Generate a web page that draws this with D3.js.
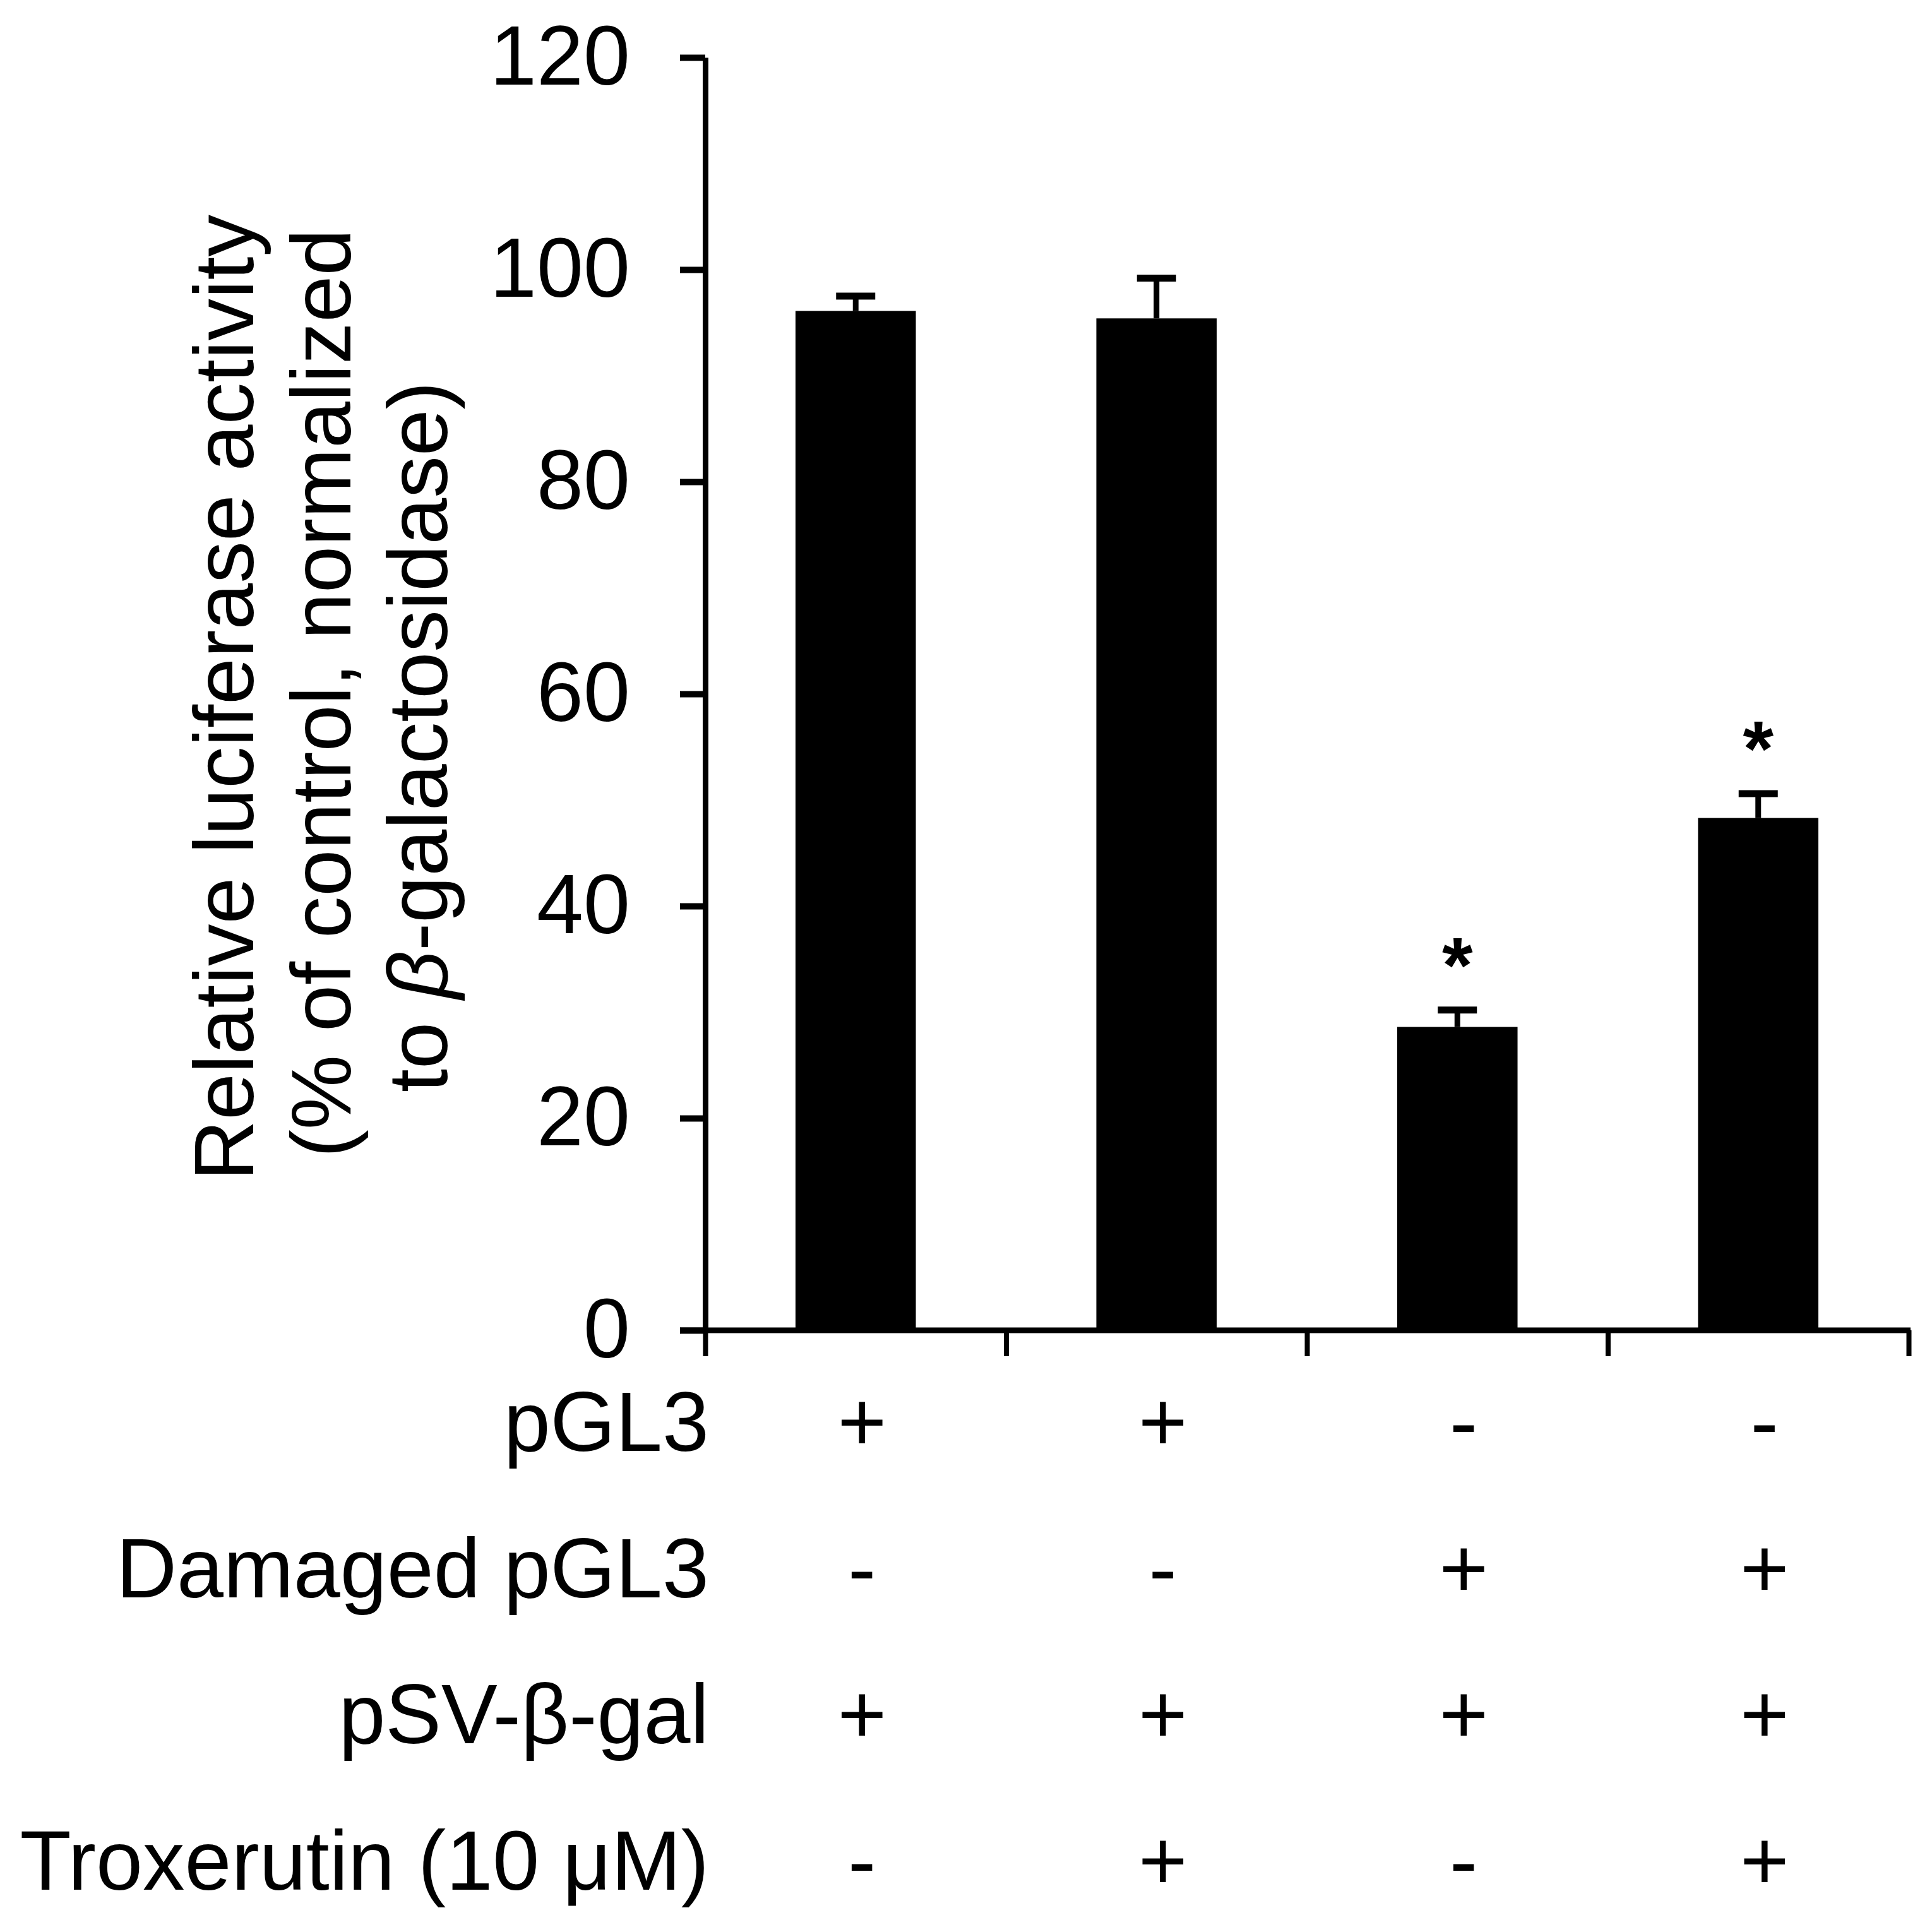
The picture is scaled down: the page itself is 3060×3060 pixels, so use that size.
<!DOCTYPE html>
<html>
<head>
<meta charset="utf-8">
<script src="https://cdn.jsdelivr.net/npm/d3@7"></script>
<style>
  body { margin: 0; background: #fff; }
  svg { display: block; font-family: "Liberation Sans", Arial, sans-serif; }
</style>
</head>
<body>
<div id="chart"></div>
<script>
// Data
const groups = ['G1', 'G2', 'G3', 'G4'];
const means = [96.1, 95.4, 28.6, 48.3];
const errors = [1.4, 3.8, 1.6, 2.3];
const significant = [false, false, true, true];
const yTicks = [0, 20, 40, 60, 80, 100, 120];

const rowLabels = ['pGL3', 'Damaged pGL3', 'pSV-\u03b2-gal', 'Troxerutin (10 \u03bcM)'];
const pGL3Signs = ['+', '+', '-', '-'];
const damagedSigns = ['-', '-', '+', '+'];
const pSVSigns = ['+', '+', '+', '+'];
const troxerutinSigns = ['-', '+', '-', '+'];
const signRows = [pGL3Signs, damagedSigns, pSVSigns, troxerutinSigns];

const width = 3060;
const height = 3060;
const fontSize = 133;

const svg = d3.select('#chart')
    .append('svg')
    .attr('width', width)
    .attr('height', height)
    .attr('viewBox', [0, 0, width, height]);

// Scales
const x = d3.scaleBand()
    .domain(groups)
    .range([1117, 3023])
    .padding(0);

const xEdge = d3.scaleLinear()
    .domain([0, groups.length])
    .range([1117, 3023]);

const y = d3.scaleLinear()
    .domain([0, 120])
    .range([2107, 91]);

const barWidth = x.bandwidth() * 0.4;

// Bars
svg.append('g')
    .selectAll('rect')
    .data(groups)
    .join('rect')
    .attr('x', (d, i) => x(d) + (x.bandwidth() - barWidth) / 2)
    .attr('y', (d, i) => y(means[i]))
    .attr('width', barWidth)
    .attr('height', (d, i) => y(0) - y(means[i]))
    .attr('fill', '#000');

// Error bars (upper only)
const err = svg.append('g').attr('stroke', '#000');
groups.forEach((g, i) => {
    const cx = x(g) + x.bandwidth() / 2;
    err.append('line')
        .attr('x1', cx).attr('x2', cx)
        .attr('y1', y(means[i]))
        .attr('y2', y(means[i] + errors[i]))
        .attr('stroke-width', 9);
    err.append('line')
        .attr('x1', cx - 31).attr('x2', cx + 31)
        .attr('y1', y(means[i] + errors[i]))
        .attr('y2', y(means[i] + errors[i]))
        .attr('stroke-width', 11);
});

// Significance asterisks
svg.append('g')
    .selectAll('text')
    .data(groups.filter((g, i) => significant[i]))
    .join('text')
    .attr('x', d => x(d) + x.bandwidth() / 2)
    .attr('y', d => {
        const i = groups.indexOf(d);
        return y(means[i] + errors[i]) - 28;
    })
    .attr('text-anchor', 'middle')
    .style('font-size', '125px')
    .style('font-weight', 'bold')
    .text('*');

// Y axis
const yAxis = svg.append('g')
    .attr('transform', 'translate(1117,0)')
    .call(d3.axisLeft(y)
        .tickValues(yTicks)
        .tickSize(40)
        .tickSizeOuter(0)
        .tickPadding(79));

yAxis.select('.domain')
    .attr('stroke', '#000')
    .attr('stroke-width', 9);
yAxis.selectAll('.tick line')
    .attr('stroke', '#000')
    .attr('stroke-width', 10);
yAxis.selectAll('.tick text')
    .attr('fill', '#000')
    .style('font-size', fontSize + 'px')
    .style('font-family', '"Liberation Sans", Arial, sans-serif');

// X axis: ticks between categories
const xAxis = svg.append('g')
    .attr('transform', `translate(0,${y(0)})`)
    .call(d3.axisBottom(xEdge)
        .tickValues(d3.range(groups.length + 1))
        .tickFormat('')
        .tickSize(41)
        .tickSizeOuter(0));

xAxis.select('.domain').remove();
xAxis.selectAll('.tick line')
    .attr('stroke', '#000')
    .attr('stroke-width', 8);
xAxis.append('line')
    .attr('x1', xEdge(0) - 40)
    .attr('x2', xEdge(groups.length) + 3)
    .attr('y1', 0).attr('y2', 0)
    .attr('stroke', '#000')
    .attr('stroke-width', 9);

// Y axis title (three lines)
const titleLines = [
    { parts: [{ t: 'Relative luciferase activity' }], base: 401, center: 1105 },
    { parts: [{ t: '(% of control, normalized' }], base: 555, center: 1098 },
    { parts: [{ t: 'to ' }, { t: '\u03b2', italic: true }, { t: '-galactosidase)' }], base: 708, center: 1167 }
];
const title = svg.append('g').attr('transform', 'rotate(-90)');
titleLines.forEach(line => {
    const t = title.append('text')
        .attr('x', -line.center)
        .attr('y', line.base)
        .attr('text-anchor', 'middle')
        .style('font-size', fontSize + 'px');
    line.parts.forEach(p => {
        t.append('tspan')
            .style('font-style', p.italic ? 'italic' : 'normal')
            .text(p.t);
    });
});

// Treatment table below the axis
const rowY = d3.scaleLinear().domain([0, 3]).range([2298, 2993]);

svg.append('g')
    .selectAll('text')
    .data(rowLabels)
    .join('text')
    .attr('x', 1123)
    .attr('y', (d, i) => rowY(i))
    .attr('text-anchor', 'end')
    .style('font-size', fontSize + 'px')
    .text(d => d);

const signs = svg.append('g');
signRows.forEach((row, r) => {
    signs.selectAll(null)
        .data(row)
        .join('text')
        .attr('x', (d, i) => x(groups[i]) + x.bandwidth() / 2 + 10)
        .attr('y', rowY(r))
        .attr('text-anchor', 'middle')
        .style('font-size', fontSize + 'px')
        .text(d => d);
});
</script>
</body>
</html>
